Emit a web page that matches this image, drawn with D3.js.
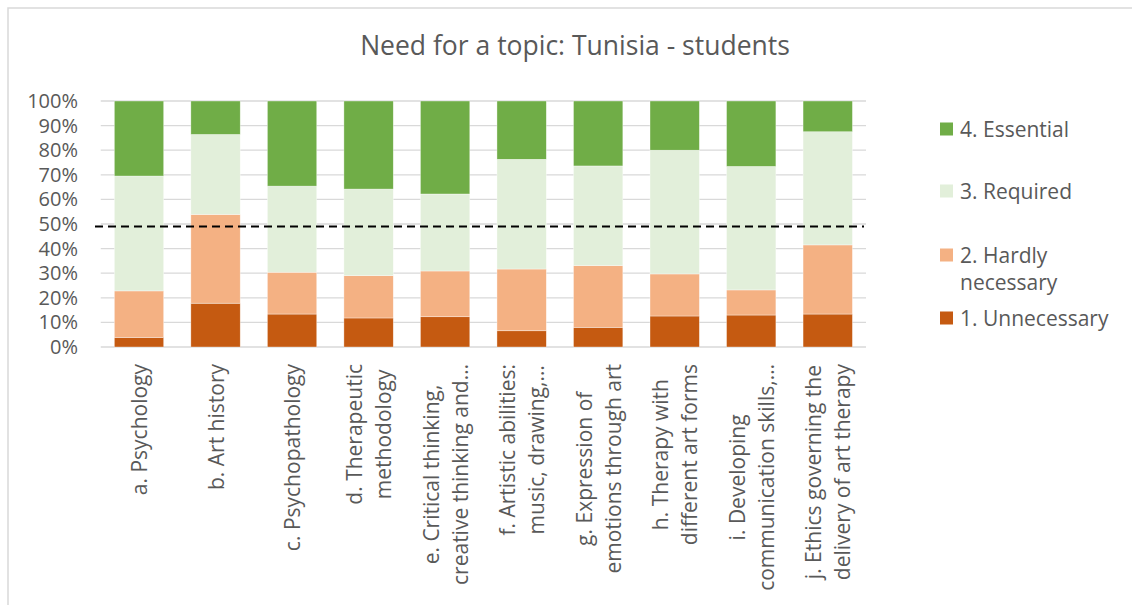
<!DOCTYPE html>
<html>
<head>
<meta charset="utf-8">
<script src="https://cdn.jsdelivr.net/npm/d3@7"></script>
<style>
  html, body { margin: 0; padding: 0; background: #fff; }
  svg { display: block; font-family: "Open Sans", sans-serif; }
</style>
</head>
<body>
<svg id="chart" width="1132" height="605"></svg>
<script>
const title = "Need for a topic: Tunisia - students";
const categories = [
  ["a. Psychology"],
  ["b. Art history"],
  ["c. Psychopathology"],
  ["d. Therapeutic", "methodology"],
  ["e. Critical thinking,", "creative thinking and…"],
  ["f. Artistic abilities:", "music, drawing,…"],
  ["g. Expression of", "emotions through art"],
  ["h. Therapy with", "different art forms"],
  ["i. Developing", "communication skills,…"],
  ["j. Ethics governing the", "delivery of art therapy"]
];
const seriesNames = ["1. Unnecessary", "2. Hardly necessary", "3. Required", "4. Essential"];
const unnecessary = [3.9, 17.8, 13.4, 11.8, 12.3, 6.6, 8.0, 12.6, 13.0, 13.4];
const hardlyNecessary = [18.9, 36.1, 17.0, 17.2, 18.6, 25.1, 25.1, 17.1, 10.2, 28.1];
const required = [46.7, 32.5, 35.0, 35.2, 31.3, 44.6, 40.5, 50.3, 50.2, 46.0];
const essential = [30.5, 13.6, 34.6, 35.8, 37.8, 23.7, 26.4, 20.0, 26.6, 12.5];
const yTicks = [0, 0.1, 0.2, 0.3, 0.4, 0.5, 0.6, 0.7, 0.8, 0.9, 1.0];
const referenceLine = 0.49;
const colors = ["#C55A11", "#F4B183", "#E2EFDA", "#70AD47"];

const svg = d3.select("#chart");
const W = 1132, H = 605;
const plot = { left: 100.75, right: 866, top: 101, bottom: 347 };

// outer chart border (left and top visible)
svg.append("rect").attr("x", 8).attr("y", 8).attr("width", W + 20).attr("height", H + 20)
  .attr("fill", "#fff").attr("stroke", "#D9D9D9").attr("stroke-width", 1.5);

svg.append("text").attr("x", 575).attr("y", 55).attr("text-anchor", "middle")
  .attr("font-size", 26.5).attr("fill", "#595959").text(title);

const x = d3.scaleBand().domain(d3.range(categories.length))
  .range([plot.left, plot.right]).paddingInner(0.355).paddingOuter(0.1775);
const y = d3.scaleLinear().domain([0, 1]).range([plot.bottom, plot.top]);

// gridlines
svg.append("g").selectAll("line").data(yTicks).join("line")
  .attr("x1", plot.left).attr("x2", plot.right)
  .attr("y1", d => y(d)).attr("y2", d => y(d))
  .attr("stroke", "#D9D9D9").attr("stroke-width", 1.3);

// y axis labels
const yAxis = d3.axisLeft(y).tickValues(yTicks).tickFormat(d3.format(".0%")).tickSize(0).tickPadding(0);
const gy = svg.append("g").attr("transform", `translate(78,0)`).call(yAxis);
gy.select(".domain").remove();
gy.selectAll("text").attr("font-size", 20).attr("fill", "#595959")
  .attr("font-family", "Open Sans, sans-serif");

// stacked data
const rows = categories.map((c, i) => ({
  i, s0: unnecessary[i] / 100, s1: hardlyNecessary[i] / 100, s2: required[i] / 100, s3: essential[i] / 100
}));
const stack = d3.stack().keys(["s0", "s1", "s2", "s3"]);
const stacked = stack(rows);

svg.append("g").selectAll("g").data(stacked).join("g")
  .attr("fill", (d, k) => colors[k])
  .selectAll("rect").data(d => d).join("rect")
  .attr("x", d => x(d.data.i)).attr("width", x.bandwidth())
  .attr("y", d => y(d[1])).attr("height", d => y(d[0]) - y(d[1]))
  .attr("stroke", "#fff").attr("stroke-width", 0.6).attr("stroke-opacity", 0.6);

// reference dashed line
svg.append("line").attr("x1", 95).attr("x2", 864)
  .attr("y1", y(referenceLine)).attr("y2", y(referenceLine))
  .attr("stroke", "#000").attr("stroke-width", 2).attr("stroke-dasharray", "8,5");

// x labels rotated
const lineGap = 29;
const labelTop = 364;
const xl = svg.append("g");
categories.forEach((lines, i) => {
  const cx = x(i) + x.bandwidth() / 2;
  const g = xl.append("g");
  const texts = lines.map((t, j) => g.append("text")
    .attr("font-size", 21).attr("fill", "#595959").attr("text-anchor", "middle")
    .attr("dominant-baseline", "central").text(t));
  const maxLen = d3.max(texts, t => t.node().getComputedTextLength());
  const cy = labelTop + maxLen / 2;
  const n = lines.length;
  texts.forEach((t, j) => {
    const lx = cx + (j - (n - 1) / 2) * lineGap;
    t.attr("transform", `translate(${lx},${cy}) rotate(-90)`);
  });
});

// legend (top to bottom: Essential, Required, Hardly necessary, Unnecessary)
const legendItems = [
  { k: 3, lines: ["4. Essential"], y: 129 },
  { k: 2, lines: ["3. Required"], y: 191 },
  { k: 1, lines: ["2. Hardly", "necessary"], y: 255 },
  { k: 0, lines: ["1. Unnecessary"], y: 318 }
];
const lg = svg.append("g");
legendItems.forEach(it => {
  lg.append("rect").attr("x", 940).attr("y", it.y - 6.5).attr("width", 13).attr("height", 13)
    .attr("fill", colors[it.k]);
  const t = lg.append("text").attr("x", 960).attr("y", it.y).attr("font-size", 21)
    .attr("fill", "#595959").attr("dominant-baseline", "central");
  it.lines.forEach((ln, j) => t.append("tspan").attr("x", 960).attr("dy", j === 0 ? 0 : 27).text(ln));
});
</script>
</body>
</html>
